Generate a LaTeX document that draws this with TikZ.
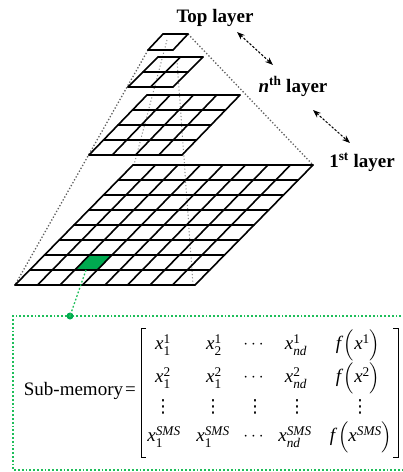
\documentclass[tikz,border=0pt]{standalone}
\usepackage{fontspec}
\setmainfont{Liberation Serif}
\newfontfamily\dvsans{DejaVu Sans}
\usepackage{amsmath}
\usetikzlibrary{calc,arrows.meta}
\definecolor{cellgreen}{RGB}{0,170,80}
\definecolor{boxgreen}{RGB}{30,190,90}
\definecolor{pyrgray}{RGB}{95,95,95}
\tikzset{
 gridline/.style={line width=1.6pt, black, line cap=round, line join=round},
 pyrline/.style={pyrgray, dash pattern=on 1.3pt off 2pt, line width=1.3pt},
 projline/.style={pyrgray!75, dash pattern=on 1.1pt off 2.2pt, line width=1pt},
 dblarrow/.style={dash pattern=on 2.4pt off 1.6pt, line width=1pt, {Stealth[length=8pt,width=6pt]}-{Stealth[length=8pt,width=6pt]}},
 lbl/.style={font=\fontsize{19}{22}\selectfont\bfseries, inner sep=0pt},
 ent/.style={font=\fontsize{19}{22}\selectfont, inner sep=0pt},
 vd/.style={font=\fontsize{18}{20}\selectfont\dvsans, inner sep=0pt},
 greenline/.style={boxgreen, line width=1.8pt, dash pattern=on 1.8pt off 2pt},
}
\newcommand{\drawlayer}[2]{%
 \foreach \i in {0,...,#2}{
   \draw[gridline] ($(#1bl)!\i/#2!(#1tl)$) -- ($(#1br)!\i/#2!(#1tr)$);
   \draw[gridline] ($(#1bl)!\i/#2!(#1br)$) -- ($(#1tl)!\i/#2!(#1tr)$);
 }}
\newcommand{\xe}[2]{$\textit{x}_{\text{#1}}^{\text{#2}}$}
\newcommand{\fe}[1]{$\textit{f}\,\Bigl(\textit{x}^{\text{#1}}\Bigr)$}
\begin{document}
\begin{tikzpicture}[x=1pt,y=-1pt]
\useasboundingbox (0,0) rectangle (403,472);
% layer corners
\coordinate (Tbl) at (148,50);  \coordinate (Tbr) at (173,50);
\coordinate (Ttl) at (163,34);  \coordinate (Ttr) at (188,34);
\coordinate (Nbl) at (128,87);  \coordinate (Nbr) at (173,87);
\coordinate (Ntl) at (158,57);  \coordinate (Ntr) at (203,57);
\coordinate (Mbl) at (89,155);  \coordinate (Mbr) at (182,155);
\coordinate (Mtl) at (147,95);  \coordinate (Mtr) at (240,95);
\coordinate (Bbl) at (15,285);  \coordinate (Bbr) at (195,285);
\coordinate (Btl) at (133,165); \coordinate (Btr) at (313,165);
% pyramid edges and projections
\draw[pyrline] (Ttr) -- (Btr);
\draw[pyrline] (Tbl) -- (Bbl);
\coordinate (p1s) at (167,40); \coordinate (p1e) at (134,165);
\coordinate (p2s) at (177,60); \coordinate (p2e) at (193,285);
\draw[projline] (p1s) -- (p1e);
\draw[projline] (p2s) -- (p2e);
% green cell
\coordinate (g1) at ($(Bbl)!0.25!(Bbr)+0.125*($(Btl)-(Bbl)$)$);
\coordinate (g2) at ($(Bbl)!0.375!(Bbr)+0.125*($(Btl)-(Bbl)$)$);
\coordinate (g3) at ($(Bbl)!0.375!(Bbr)+0.25*($(Btl)-(Bbl)$)$);
\coordinate (g4) at ($(Bbl)!0.25!(Bbr)+0.25*($(Btl)-(Bbl)$)$);
\fill[cellgreen] (g1) -- (g2) -- (g3) -- (g4) -- cycle;
% grids
\drawlayer{T}{1}
\drawlayer{N}{2}
\drawlayer{M}{4}
\drawlayer{B}{8}
% labels
\node[lbl, anchor=base] (ltop) at (215,22) {Top layer};
\node[lbl, anchor=base] (lnth) at (293,92) {\textit{n}\textsuperscript{th} layer};
\node[lbl, anchor=base] (lfirst) at (362,167) {1\textsuperscript{st} layer};
% arrows
\coordinate (a1s) at (237,32); \coordinate (a1e) at (273,65);
\coordinate (a2s) at (313,110); \coordinate (a2e) at (350,143);
\draw[dblarrow] (a1s) -- (a1e);
\draw[dblarrow] (a2s) -- (a2e);
% green box and connector
\coordinate (gc) at ($(g1)!0.5!(g2)$);
\node[circle, fill=cellgreen, inner sep=0pt, minimum size=7pt] (dot) at (70,316) {};
\draw[greenline, line width=1.3pt] (gc) -- (dot.center);
\coordinate (bx1) at (405,316); \coordinate (bx2) at (13,316);
\coordinate (bx3) at (13,470); \coordinate (bx4) at (405,470);
\draw[greenline] (bx1) -- (bx2) -- (bx3) -- (bx4);
% sub-memory
\node[font=\fontsize{19}{22}\selectfont, anchor=east, inner sep=0pt] (sm) at (136,391) {Sub-memory\hspace{2pt}=};
% brackets
\coordinate (lb1) at (146,328); \coordinate (lb2) at (141,328);
\coordinate (lb3) at (141,457); \coordinate (lb4) at (146,457);
\coordinate (rb1) at (393,328); \coordinate (rb2) at (398,328);
\coordinate (rb3) at (398,457); \coordinate (rb4) at (393,457);
\draw[line width=0.8pt] (lb1) -- (lb2) -- (lb3) -- (lb4);
\draw[line width=0.8pt] (rb1) -- (rb2) -- (rb3) -- (rb4);
% entries row 1
\node[ent] (e11) at (163,345) {\xe{1}{1}};
\node[ent] (e12) at (214,345) {\xe{2}{1}};
\node[ent] (e13) at (255,345) {$\cdots$};
\node[ent] (e14) at (296,345) {\xe{\textit{nd}}{1}};
\node[ent] (e15) at (358,345) {\fe{1}};
% row 2
\node[ent] (e21) at (163,378) {\xe{1}{2}};
\node[ent] (e22) at (214,378) {\xe{1}{2}};
\node[ent] (e23) at (255,378) {$\cdots$};
\node[ent] (e24) at (296,378) {\xe{\textit{nd}}{2}};
\node[ent] (e25) at (358,378) {\fe{2}};
% row 3
\node[vd] (e31) at (163,407) {⋮};
\node[vd] (e32) at (213,407) {⋮};
\node[vd] (e33) at (255,407) {⋮};
\node[vd] (e34) at (297,407) {⋮};
\node[vd] (e35) at (360,407) {⋮};
% row 4
\node[ent] (e41) at (164,437) {\xe{1}{\textit{SMS}}};
\node[ent] (e42) at (213,437) {\xe{1}{\textit{SMS}}};
\node[ent] (e43) at (255,437) {$\cdots$};
\node[ent] (e44) at (295,437) {\xe{\textit{nd}}{\textit{SMS}}};
\node[ent] (e45) at (361,437) {\fe{\textit{SMS}}};
\end{tikzpicture}
\end{document}
